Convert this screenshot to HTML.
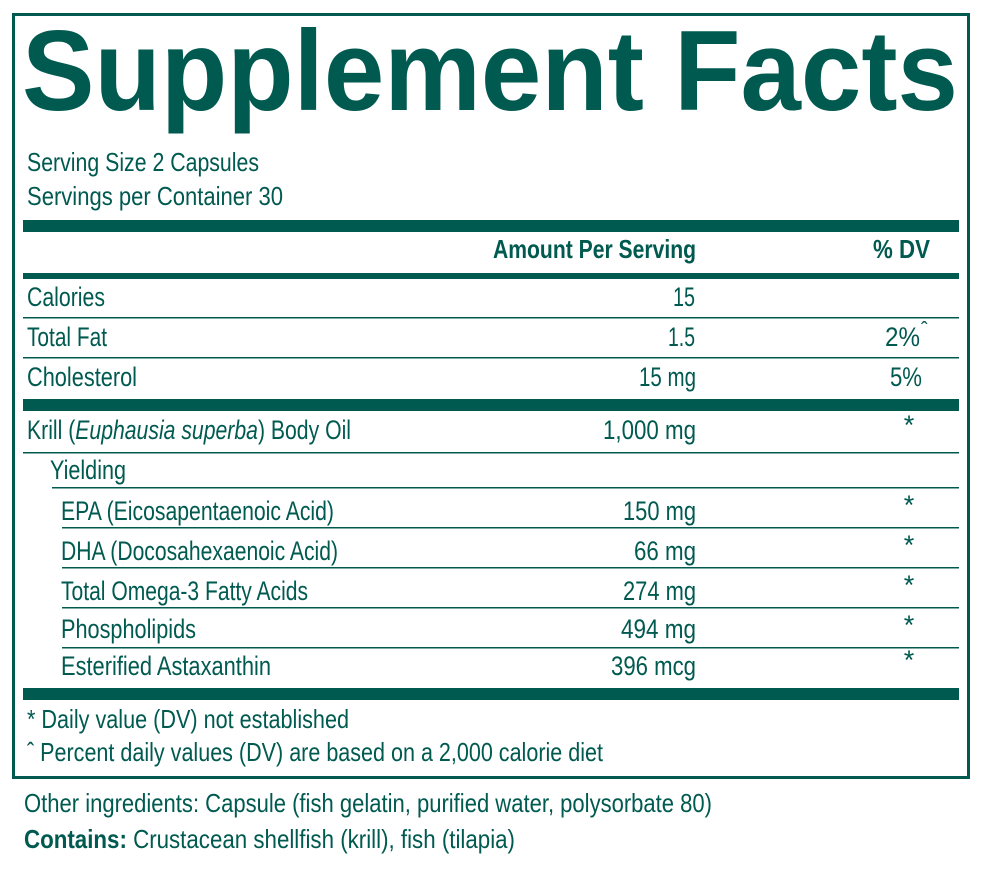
<!DOCTYPE html>
<html><head><meta charset="utf-8"><style>
html,body{margin:0;padding:0;background:#fff}
svg{display:block}
text{font-family:"Liberation Sans Narrow","Liberation Sans",sans-serif;fill:#005a50;font-size:27px}
</style></head><body>
<svg width="983" height="870" viewBox="0 0 983 870">
<g fill="#005a50">
<rect x="12" y="13" width="958" height="3"/>
<rect x="12" y="13" width="3" height="766"/>
<rect x="967" y="13" width="3" height="766"/>
<rect x="12" y="776" width="958" height="3"/>
<rect x="23" y="220" width="936" height="12"/>
<rect x="23" y="273" width="936" height="6"/>
<rect x="23" y="317" width="936" height="1.5"/>
<rect x="23" y="357" width="936" height="1.5"/>
<rect x="23" y="399" width="936" height="12"/>
<rect x="23" y="452" width="936" height="1.5"/>
<rect x="52" y="487" width="907" height="1.5"/>
<rect x="62" y="527" width="897" height="1.5"/>
<rect x="62" y="567" width="897" height="1.5"/>
<rect x="62" y="607" width="897" height="1.5"/>
<rect x="62" y="647" width="897" height="1.5"/>
<rect x="23" y="688" width="936" height="12"/>
</g>
<text x="22" y="110" font-weight="bold" textLength="936" lengthAdjust="spacingAndGlyphs" style="font-family:'Liberation Sans',sans-serif;font-size:114px">Supplement Facts</text>
<text x="27" y="171" style="font-size:26px" textLength="232" lengthAdjust="spacingAndGlyphs">Serving Size 2 Capsules</text>
<text x="27" y="205" style="font-size:26px" textLength="256" lengthAdjust="spacingAndGlyphs">Servings per Container 30</text>
<text x="493" y="258" style="font-weight:bold;font-size:26px" textLength="203" lengthAdjust="spacingAndGlyphs">Amount Per Serving</text>
<text x="873" y="258" style="font-weight:bold;font-size:26px" textLength="57" lengthAdjust="spacingAndGlyphs">% DV</text>

<text x="27" y="306" textLength="78" lengthAdjust="spacingAndGlyphs">Calories</text>
<text x="673" y="306" textLength="22" lengthAdjust="spacingAndGlyphs">15</text>
<text x="27" y="346" textLength="80" lengthAdjust="spacingAndGlyphs">Total Fat</text>
<text x="668" y="346" textLength="27" lengthAdjust="spacingAndGlyphs">1.5</text>
<text x="885" y="346" textLength="35" lengthAdjust="spacingAndGlyphs">2%</text>
<text x="921" y="336" style="font-size:20px">ˆ</text>
<text x="27" y="386" textLength="110" lengthAdjust="spacingAndGlyphs">Cholesterol</text>
<text x="639" y="386" textLength="57" lengthAdjust="spacingAndGlyphs">15 mg</text>
<text x="890" y="386" textLength="32" lengthAdjust="spacingAndGlyphs">5%</text>

<text x="27" y="439" textLength="324" lengthAdjust="spacingAndGlyphs">Krill (<tspan font-style="italic">Euphausia superba</tspan>) Body Oil</text>
<text x="603" y="439" textLength="93" lengthAdjust="spacingAndGlyphs">1,000 mg</text>
<text x="909" y="434" text-anchor="middle">*</text>
<text x="50" y="479" textLength="76" lengthAdjust="spacingAndGlyphs">Yielding</text>

<text x="61" y="520" textLength="273" lengthAdjust="spacingAndGlyphs">EPA (Eicosapentaenoic Acid)</text>
<text x="623" y="520" textLength="73" lengthAdjust="spacingAndGlyphs">150 mg</text>
<text x="909" y="514" text-anchor="middle">*</text>
<text x="61" y="560" textLength="277" lengthAdjust="spacingAndGlyphs">DHA (Docosahexaenoic Acid)</text>
<text x="634" y="560" textLength="62" lengthAdjust="spacingAndGlyphs">66 mg</text>
<text x="909" y="554" text-anchor="middle">*</text>
<text x="61" y="600" textLength="247" lengthAdjust="spacingAndGlyphs">Total Omega-3 Fatty Acids</text>
<text x="623" y="600" textLength="73" lengthAdjust="spacingAndGlyphs">274 mg</text>
<text x="909" y="594" text-anchor="middle">*</text>
<text x="61" y="638" textLength="135" lengthAdjust="spacingAndGlyphs">Phospholipids</text>
<text x="621" y="638" textLength="75" lengthAdjust="spacingAndGlyphs">494 mg</text>
<text x="909" y="634" text-anchor="middle">*</text>
<text x="61" y="675" textLength="210" lengthAdjust="spacingAndGlyphs">Esterified Astaxanthin</text>
<text x="611" y="675" textLength="85" lengthAdjust="spacingAndGlyphs">396 mcg</text>
<text x="909" y="669" text-anchor="middle">*</text>

<text x="27" y="728" style="font-size:26px" textLength="322" lengthAdjust="spacingAndGlyphs">* Daily value (DV) not established</text>
<text x="27" y="761" style="font-size:26px" textLength="576" lengthAdjust="spacingAndGlyphs">ˆ Percent daily values (DV) are based on a 2,000 calorie diet</text>
<text x="24" y="812" style="font-size:26px" textLength="688" lengthAdjust="spacingAndGlyphs">Other ingredients: Capsule (fish gelatin, purified water, polysorbate 80)</text>
<text x="24" y="848" style="font-size:26px" textLength="491" lengthAdjust="spacingAndGlyphs"><tspan font-weight="bold">Contains:</tspan> Crustacean shellfish (krill), fish (tilapia)</text>
</svg>
</body></html>
